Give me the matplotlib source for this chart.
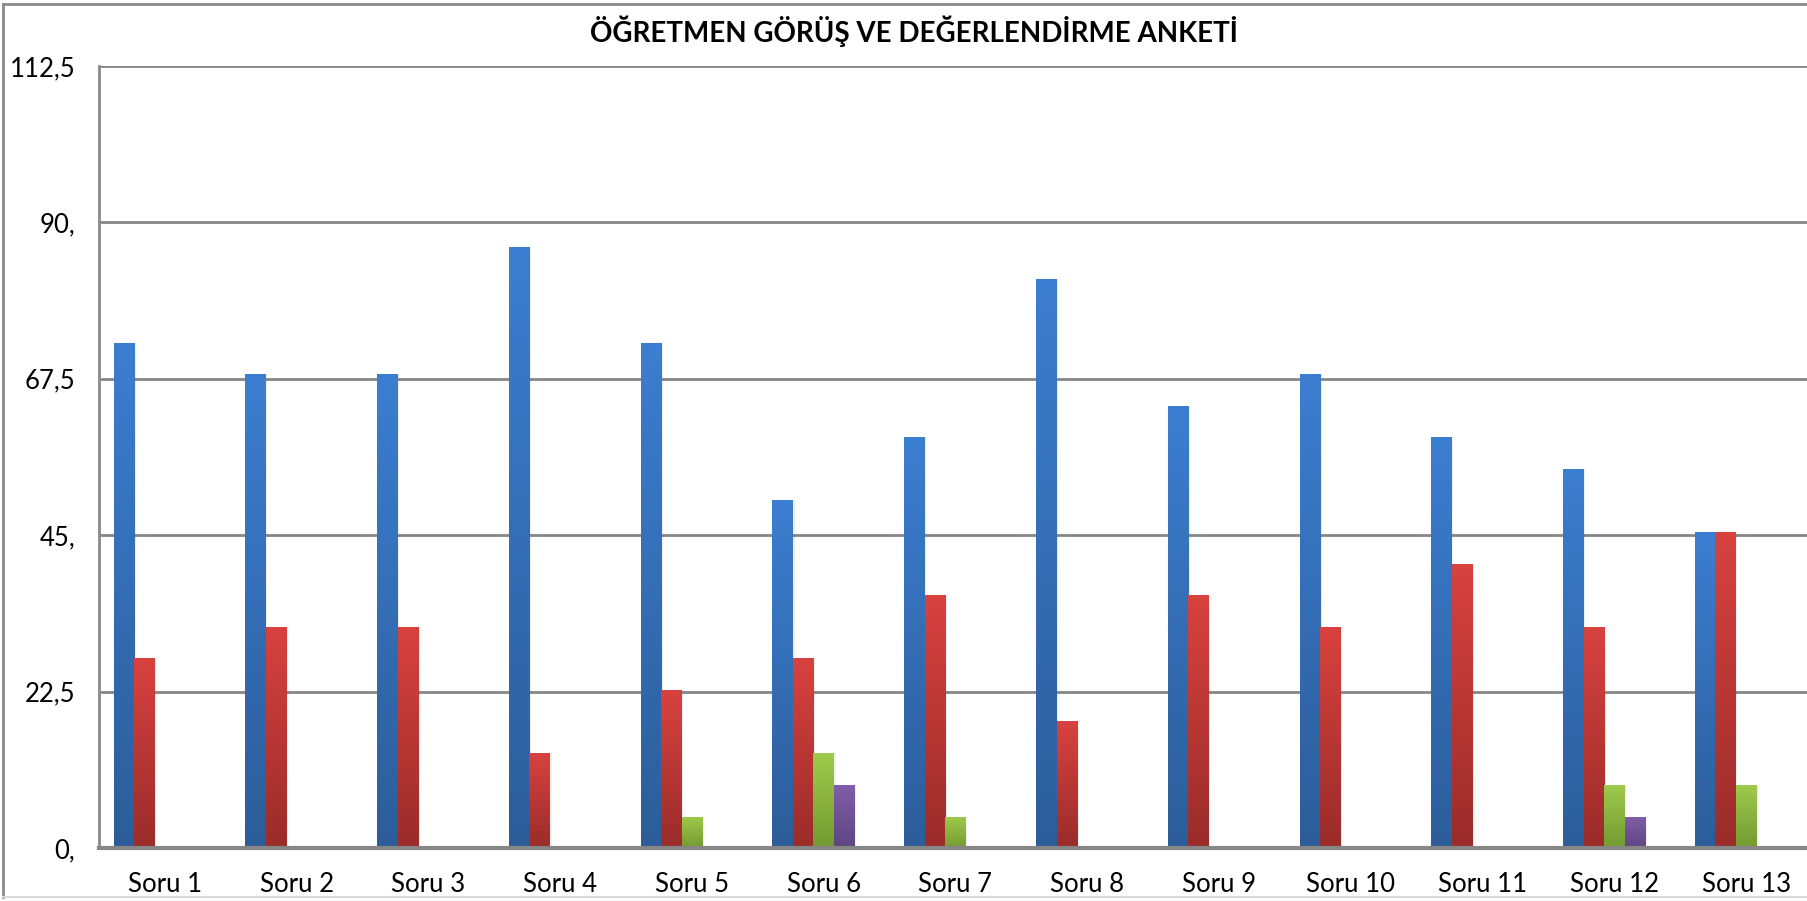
import matplotlib.pyplot as plt
import numpy as np
from matplotlib.colors import LinearSegmentedColormap
from matplotlib.lines import Line2D

questions = ['Soru 1', 'Soru 2', 'Soru 3', 'Soru 4', 'Soru 5', 'Soru 6', 'Soru 7',
             'Soru 8', 'Soru 9', 'Soru 10', 'Soru 11', 'Soru 12', 'Soru 13']
series_1 = [72.7, 68.2, 68.2, 86.4, 72.7, 50.0, 59.1, 81.8, 63.6, 68.2, 59.1, 54.5, 45.5]
series_2 = [27.3, 31.8, 31.8, 13.6, 22.7, 27.3, 36.4, 18.2, 36.4, 31.8, 40.9, 31.8, 45.5]
series_3 = [0, 0, 0, 0, 4.5, 13.6, 4.5, 0, 0, 0, 0, 9.1, 9.1]
series_4 = [0, 0, 0, 0, 0, 9.1, 0, 0, 0, 0, 0, 4.5, 0]
y_ticks = [0, 22.5, 45, 67.5, 90, 112.5]
y_tick_labels = ['0,', '22,5', '45,', '67,5', '90,', '112,5']

# (bottom colour, top colour) for the excel-like gradient
grads = [('#2c5d99', '#3c7ed1'),
         ('#9a2c2a', '#d8423f'),
         ('#739a31', '#9fcb4c'),
         ('#5e4581', '#815ea9')]

fig = plt.figure(figsize=(18.07, 9.01), dpi=100)
ax = fig.add_axes([99 / 1807, 53 / 901, 1713 / 1807, 782 / 901])

pos = np.arange(len(questions))
n_slots = 5  # excel leaves room for an empty fifth series
w = 0.1556
all_series = [series_1, series_2, series_3, series_4]

for k, vals in enumerate(all_series):
    bars = ax.bar(pos + (k - (n_slots - 1) / 2) * w, vals, width=w,
                  color='none', linewidth=0, zorder=3)
    cmap = LinearSegmentedColormap.from_list('g%d' % k, grads[k])
    for bar in bars:
        h = bar.get_height()
        if h <= 0:
            continue
        x0 = bar.get_x()
        # soft shadow on the right
        ax.bar(x0 + bar.get_width() / 2 + 0.012, h, width=bar.get_width(),
               color='#000000', alpha=0.06, linewidth=0, zorder=2.5)
        grad = np.linspace(0, 1, 256).reshape(-1, 1)
        im = ax.imshow(grad, extent=[x0, x0 + bar.get_width(), 0, h], origin='lower',
                       aspect='auto', cmap=cmap, zorder=3, interpolation='bilinear')
        im.set_clip_path(bar)

ax.set_xlim(-0.5, 12.5)
ax.set_ylim(0, 112.5)
ax.set_yticks(y_ticks)
ax.set_yticklabels(y_tick_labels)
ax.set_xticks(pos)
ax.set_xticklabels(questions)
ax.tick_params(length=0, labelsize=18.5, labelcolor='black')
ax.tick_params(axis='x', pad=17)
ax.tick_params(axis='y', pad=17)
for lab in ax.get_xticklabels() + ax.get_yticklabels():
    lab.set_family('Lato')

ax.grid(axis='y', color='#868686', linewidth=2, zorder=1)
ax.set_axisbelow(True)
for s in ['top', 'right']:
    ax.spines[s].set_visible(False)
ax.spines['left'].set_color('#8a8a8a')
ax.spines['left'].set_linewidth(2)
ax.spines['bottom'].set_color('#868686')
ax.spines['bottom'].set_linewidth(3)
ax.spines['bottom'].set_zorder(4)

fig.text(914 / 1807, 1 - 31 / 901, 'ÖĞRETMEN GÖRÜŞ VE DEĞERLENDİRME ANKETİ',
         ha='center', va='center', fontsize=20, fontweight='bold', family='Lato')

# outer chart border
fig.add_artist(Line2D([3 / 1807, 3 / 1807], [1 - 4 / 901, 1 - 897 / 901], color='#8a8a8a', lw=2))
fig.add_artist(Line2D([3 / 1807, 1], [1 - 4 / 901, 1 - 4 / 901], color='#8a8a8a', lw=2))
fig.add_artist(Line2D([3 / 1807, 1], [1 - 897 / 901, 1 - 897 / 901], color='#d9d9d9', lw=1.5))

fig.savefig('out.png', dpi=100)
